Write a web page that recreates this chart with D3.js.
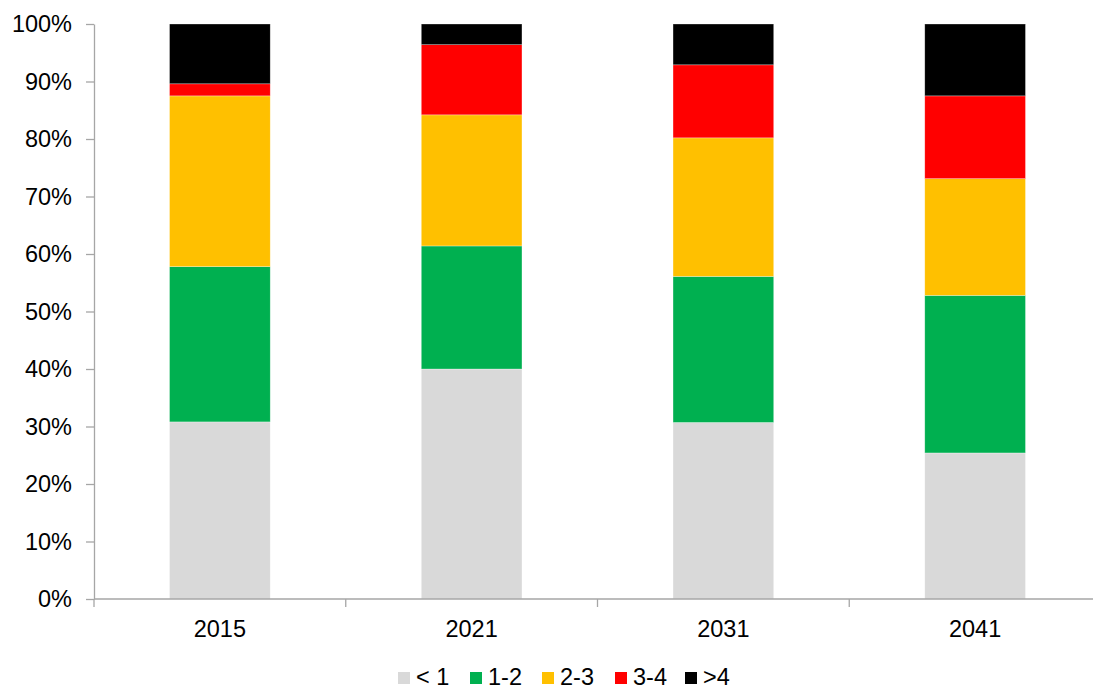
<!DOCTYPE html>
<html>
<head>
<meta charset="utf-8">
<script src="https://cdn.jsdelivr.net/npm/d3@7"></script>
<style>
  body { margin: 0; background: #fff; }
  text { font-family: "Liberation Sans", Arial, sans-serif; fill: #000; }
</style>
</head>
<body>
<div id="chart"></div>
<script>
const years = ["2015", "2021", "2031", "2041"];
const seriesNames = ["< 1", "1-2", "2-3", "3-4", ">4"];
const seriesColors = ["#d9d9d9", "#00b050", "#ffc000", "#ff0000", "#000000"];

// shares in percent, one array per series, in year order
const lt1 = [30.8, 40.0, 30.7, 25.4];
const from1to2 = [27.0, 21.4, 25.4, 27.4];
const from2to3 = [29.7, 22.8, 24.1, 20.3];
const from3to4 = [2.1, 12.2, 12.7, 14.4];
const gt4 = [10.4, 3.6, 7.1, 12.5];

const yTicks = [0, 10, 20, 30, 40, 50, 60, 70, 80, 90, 100];

const seriesValues = [lt1, from1to2, from2to3, from3to4, gt4];
const rows = years.map((y, i) => {
  const r = { year: y };
  seriesNames.forEach((s, j) => r[s] = seriesValues[j][i]);
  return r;
});

const width = 1093, height = 691;
const margin = { top: 24, right: -8, bottom: 92, left: 94 };
const innerW = width - margin.left - margin.right;
const innerH = height - margin.top - margin.bottom;
const fontSize = "23.5px";

const svg = d3.select("#chart").append("svg")
  .attr("width", width)
  .attr("height", height);

const g = svg.append("g")
  .attr("transform", `translate(${margin.left},${margin.top})`);

const x = d3.scaleBand().domain(years).range([0, innerW]).paddingInner(0).paddingOuter(0);
const y = d3.scaleLinear().domain([0, 100]).range([innerH, 0]);

const stack = d3.stack().keys(seriesNames);
const stacked = stack(rows);

const barW = x.bandwidth() * 0.4;

g.selectAll("g.layer")
  .data(stacked)
  .enter().append("g")
  .attr("class", "layer")
  .attr("fill", (d, i) => seriesColors[i])
  .selectAll("rect")
  .data(d => d)
  .enter().append("rect")
  .attr("x", d => x(d.data.year) + (x.bandwidth() - barW) / 2)
  .attr("y", d => y(d[1]))
  .attr("width", barW)
  .attr("height", d => y(d[0]) - y(d[1]))
  .attr("stroke", "#ffffff")
  .attr("stroke-opacity", 0.5)
  .attr("stroke-width", 0.6);

// y axis
const yAxis = g.append("g")
  .call(d3.axisLeft(y).tickValues(yTicks).tickFormat(d => d + "%").tickSize(8).tickSizeOuter(0));
yAxis.select(".domain").attr("stroke", "#a6a6a6").attr("stroke-width", 1.3);
yAxis.selectAll(".tick line").attr("stroke", "#a6a6a6").attr("stroke-width", 1.3);
yAxis.selectAll(".tick text")
  .attr("x", -22)
  .style("font-size", fontSize)
  .style("font-family", "'Liberation Sans', Arial, sans-serif")
  .attr("fill", "#000");

// x axis with tick marks at category boundaries
const xAxis = g.append("g").attr("transform", `translate(0,${innerH})`);
xAxis.append("line")
  .attr("x1", 0).attr("x2", innerW)
  .attr("stroke", "#a6a6a6").attr("stroke-width", 1.3);
const boundaries = years.map(d => x(d)).concat([innerW]);
xAxis.selectAll("line.bt")
  .data(boundaries)
  .enter().append("line")
  .attr("class", "bt")
  .attr("x1", d => d).attr("x2", d => d)
  .attr("y1", 0).attr("y2", 8)
  .attr("stroke", "#a6a6a6").attr("stroke-width", 1.3);
xAxis.selectAll("text")
  .data(years)
  .enter().append("text")
  .attr("x", d => x(d) + x.bandwidth() / 2)
  .attr("y", 38)
  .attr("text-anchor", "middle")
  .style("font-size", fontSize)
  .text(d => d);

// legend
const legendX = [398, 470, 542, 615, 685];
const legend = svg.append("g");
seriesNames.forEach((s, i) => {
  legend.append("rect")
    .attr("x", legendX[i]).attr("y", 672)
    .attr("width", 12).attr("height", 12)
    .attr("fill", seriesColors[i]);
  legend.append("text")
    .attr("x", legendX[i] + 18).attr("y", 685)
    .style("font-size", fontSize)
    .text(s);
});
</script>
</body>
</html>
